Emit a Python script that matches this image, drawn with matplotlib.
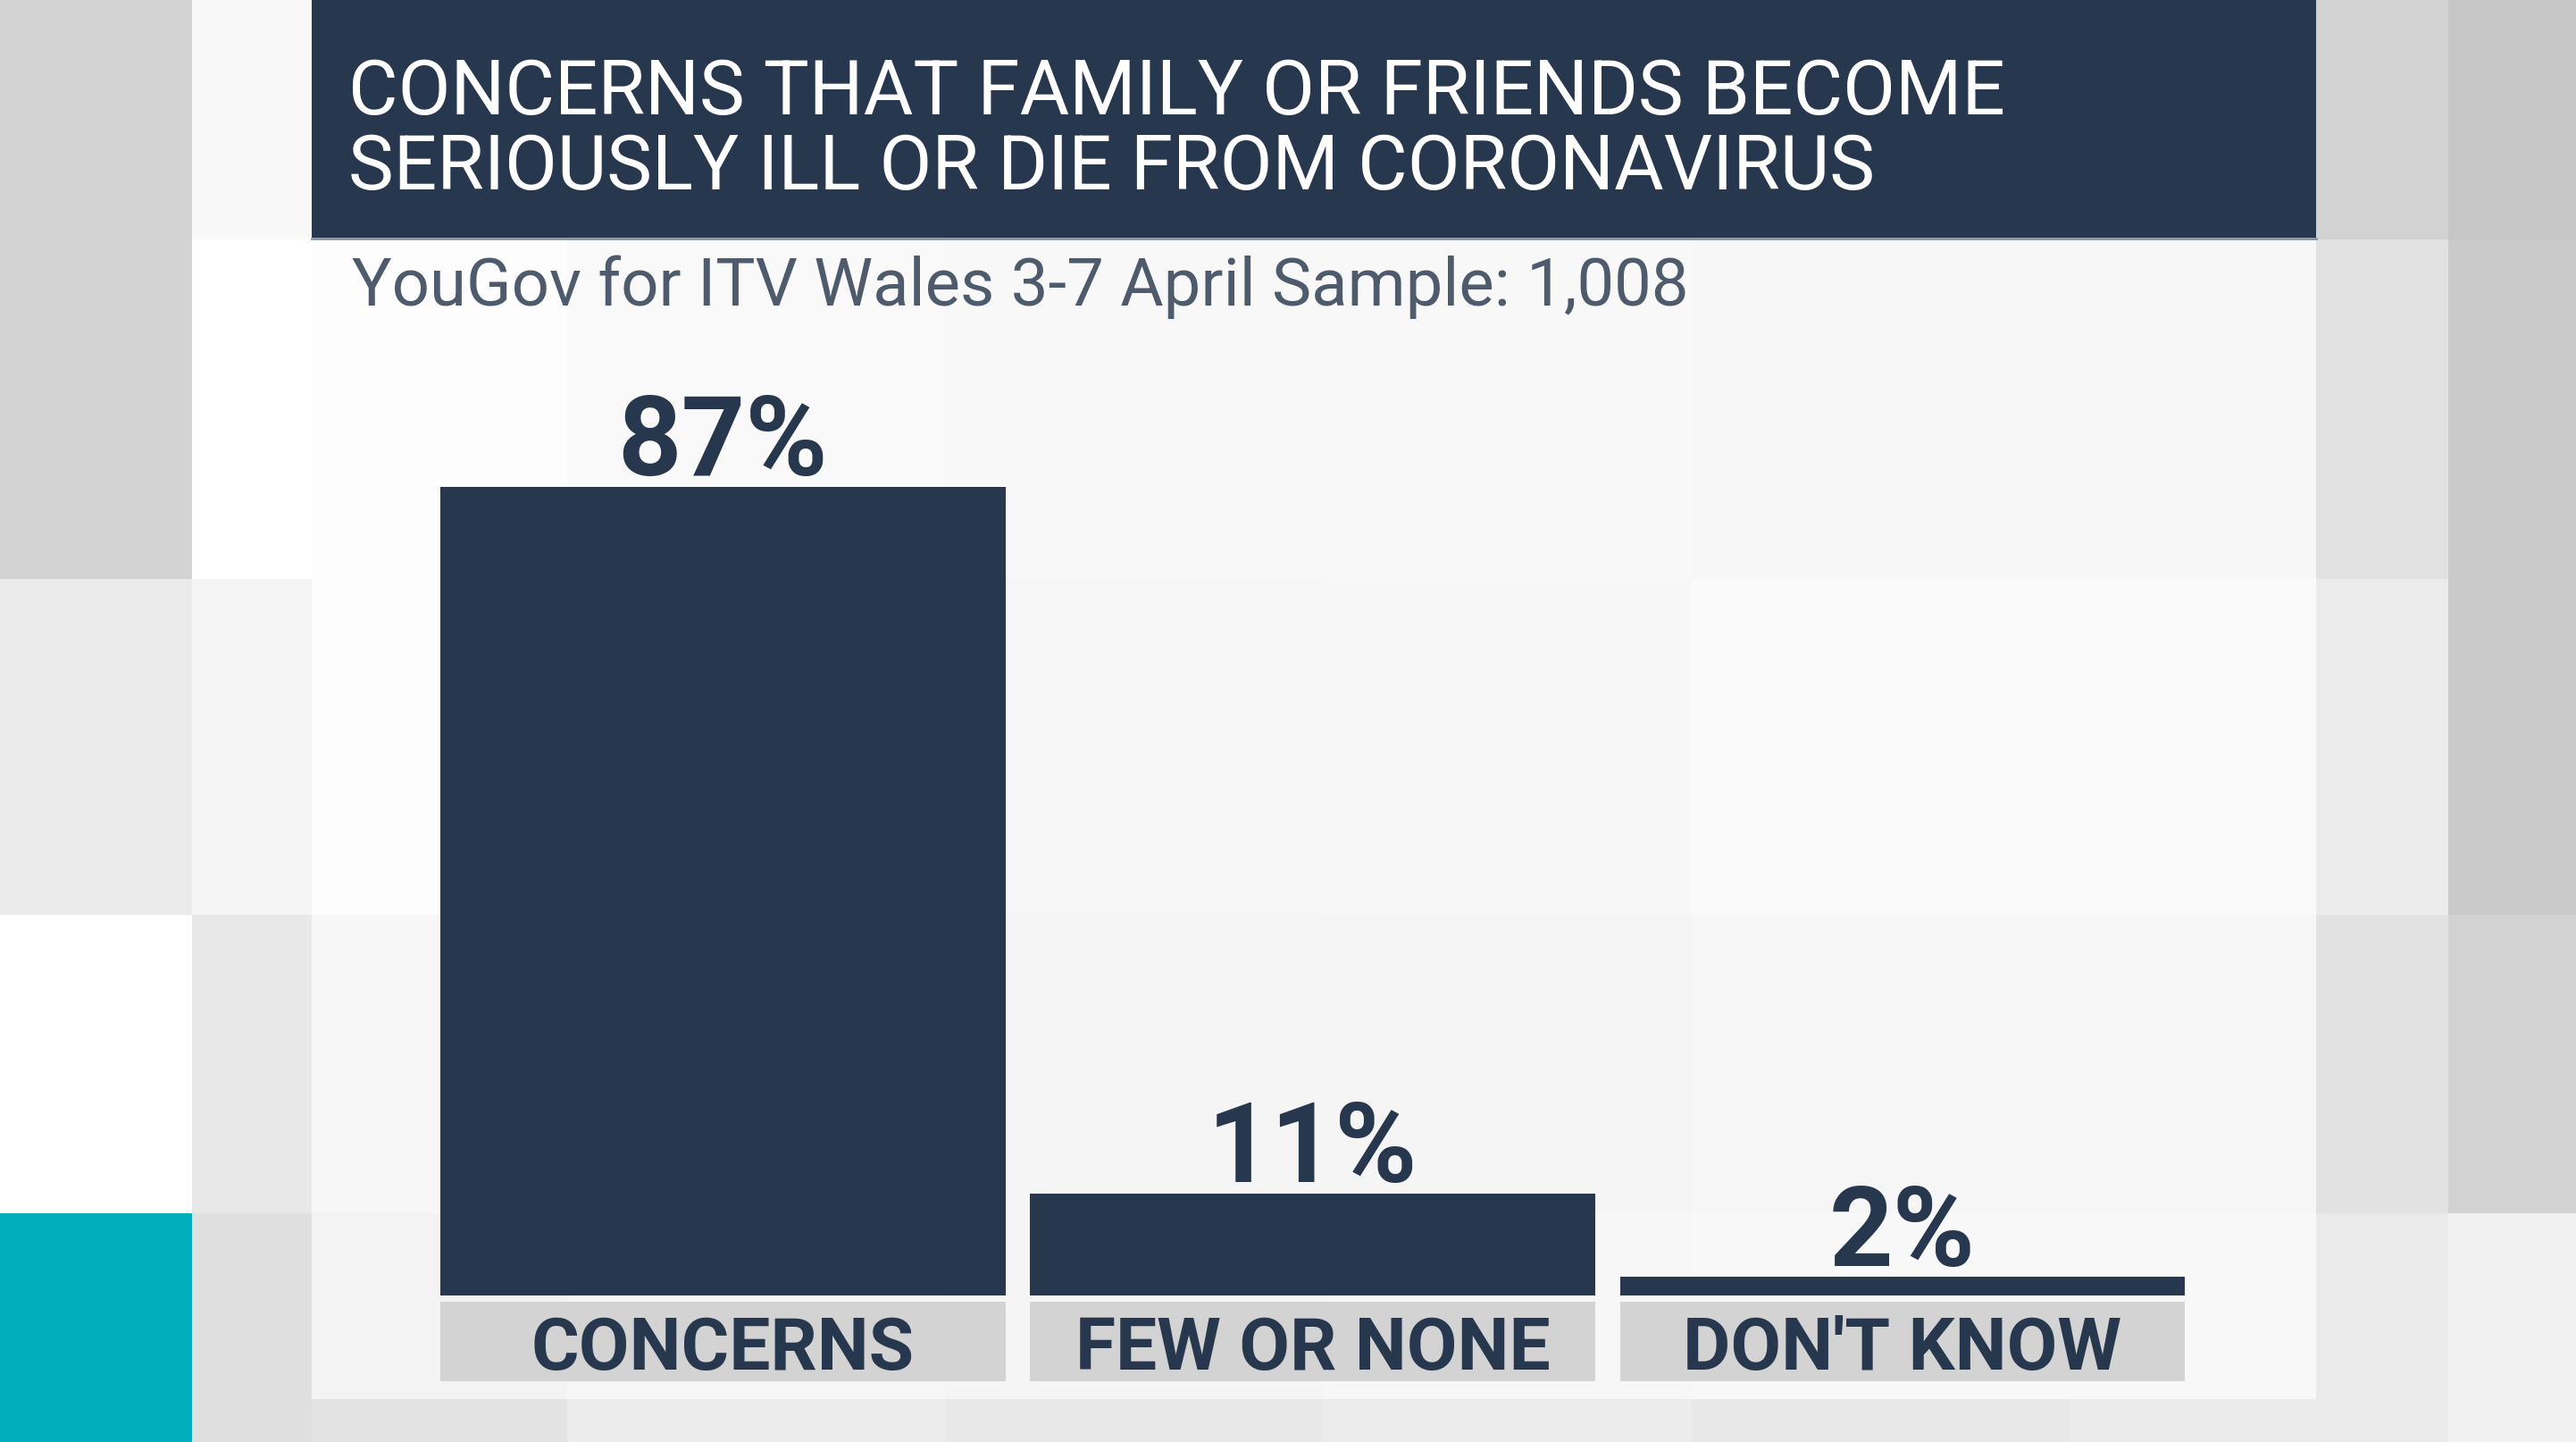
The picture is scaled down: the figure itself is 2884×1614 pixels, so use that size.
import numpy as np
import matplotlib.pyplot as plt
from matplotlib.colors import ListedColormap

# reference was laid out on a 1568 x 878 grid, everything below uses that
W, H = 1568, 878

categories = ["CONCERNS", "FEW OR NONE", "DON'T KNOW"]
values = [87, 11, 2]
value_labels = ["87%", "11%", "2%"]

title_lines = ["CONCERNS THAT FAMILY OR FRIENDS BECOME",
               "SERIOUSLY ILL OR DIE FROM CORONAVIRUS"]
subtitle = "YouGov for ITV Wales 3-7 April Sample: 1,008"

navy = "#27374d"
label_bg = "#d3d3d3"
teal = "#00adbb"

FONT = ["Roboto", "DejaVu Sans"]

fig = plt.figure(figsize=(28.84, 16.15), dpi=100)

# tiled background
col_edges = [0, 117, 190, 345, 575, 805, 1030, 1260, 1410, 1490, 1568]
row_edges = [0, 146, 353, 557, 739, 852, 878]
shades = [
    ["#d3d3d3", "#f8f8f8", "#f8f8f8", "#f8f8f8", "#f8f8f8", "#f8f8f8", "#f8f8f8", "#f8f8f8", "#d2d2d2", "#c6c6c6"],
    ["#d3d3d3", "#ffffff", "#fdfdfd", "#f9f9f9", "#f8f8f8", "#f8f8f8", "#f7f7f7", "#f7f7f7", "#e1e1e1", "#cacaca"],
    ["#ebebeb", "#f5f5f5", "#fdfdfd", "#f6f6f6", "#f6f6f6", "#f7f7f7", "#fafafa", "#fafafa", "#ececec", "#cacaca"],
    ["#ffffff", "#e8e8e8", "#f7f7f7", "#f7f7f7", "#f5f5f5", "#f5f5f5", "#f6f6f6", "#f6f6f6", "#e2e2e2", "#d2d2d2"],
    [teal, "#dfdfdf", "#f3f3f3", "#f6f6f6", "#f5f5f5", "#f7f7f7", "#f8f8f8", "#f8f8f8", "#eaeaea", "#f1f1f1"],
    [teal, "#dfdfdf", "#e3e3e3", "#ececec", "#e8e8e8", "#ececec", "#e8e8e8", "#ebebeb", "#eaeaea", "#f1f1f1"],
]
flat = [c for row in shades for c in row]
idx = np.arange(len(flat)).reshape(len(shades), len(shades[0]))

bg = fig.add_axes([0, 0, 1, 1])
bg.pcolormesh(col_edges, row_edges, idx, cmap=ListedColormap(flat),
              vmin=-0.5, vmax=len(flat) - 0.5, shading="flat")
bg.set_xlim(0, W)
bg.set_ylim(H, 0)
bg.axis("off")

# header block
bg.fill_between([190, 1410], 0, 145, color=navy, lw=0)
bg.plot([190, 1410], [145.5, 145.5], color="#8593a5", lw=2)
for y, line in zip([69.6, 115.3], title_lines):
    bg.text(212, y, line, color="white", fontsize=61.5,
            family=FONT, va="baseline", ha="left")
bg.text(214, 186, subtitle, color="#4d5b6c", fontsize=53.5,
        family=FONT, va="baseline", ha="left")

# bar chart
base_px, top_px = 789, 189
per_pct = (789 - 297) / 87.0
ax = fig.add_axes([268 / W, 1 - base_px / H, (1330 - 268) / W, (base_px - top_px) / H])
x = np.arange(len(categories))
width = 344 / 359
ax.bar(x, values, width=width, color=navy, lw=0)
ax.set_xlim(-width / 2, len(categories) - 1 + width / 2)
ax.set_ylim(0, (base_px - top_px) / per_pct)
ax.axis("off")
ax.patch.set_alpha(0)

# category boxes under the bars
box_top = -(792.5 - base_px) / per_pct
box_h = (841 - 792.5) / per_pct
ax.bar(x, -box_h, bottom=box_top, width=width, color=label_bg, lw=0, clip_on=False)
cat_base = -(833.5 - base_px) / per_pct
for xi, cat in zip(x, categories):
    ax.text(xi, cat_base, cat, ha="center", va="baseline",
            fontsize=59, fontweight="bold", color=navy, family=FONT, clip_on=False)

for xi, v, lab in zip(x, values, value_labels):
    ax.annotate(lab, (xi, v), xytext=(0, 10), textcoords="offset points",
                ha="center", va="baseline", fontsize=90, fontweight="bold",
                color=navy, family=FONT)

fig.savefig("out.png", dpi=100)
